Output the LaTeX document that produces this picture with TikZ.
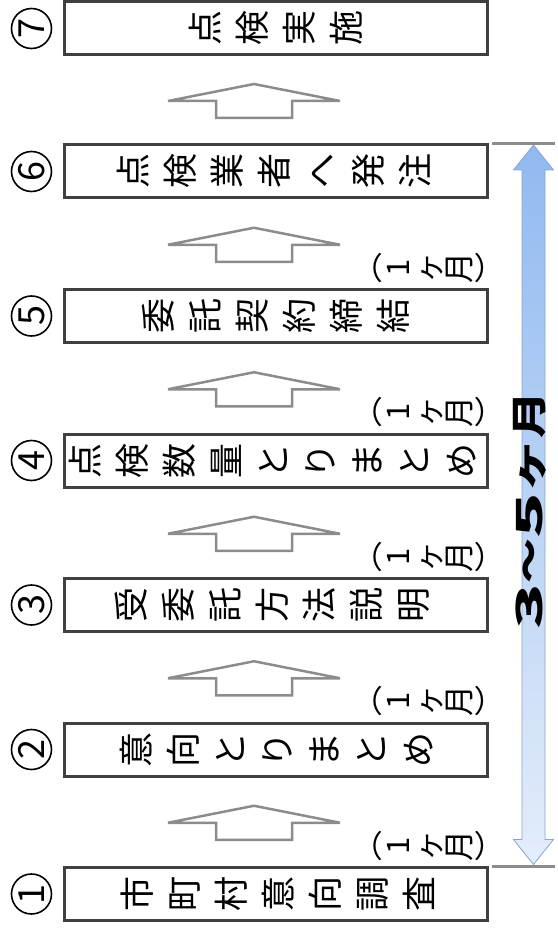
\documentclass[tikz,border=0pt]{standalone}
\usepackage{fontspec}
\usepackage{graphicx}
\newfontfamily\jpfont{Noto Sans CJK JP}
\usetikzlibrary{calc}

\definecolor{boxline}{RGB}{64,64,64}
\definecolor{arrline}{RGB}{140,140,140}
\definecolor{spantop}{RGB}{145,185,240}
\definecolor{spanbot}{RGB}{228,237,250}
\definecolor{spanline}{RGB}{135,165,210}

\tikzset{
  stepbox/.style={draw=boxline, line width=3pt, minimum width=423pt, minimum height=53pt, inner sep=0pt},
  steptext/.style={rotate=90, align=center, inner sep=0pt, font=\jpfont\fontsize{35}{47}\selectfont},
  stepnum/.style={circle, draw, line width=1.6pt, minimum size=40pt, inner sep=0pt, rotate=90, font=\jpfont\fontsize{36}{36}\selectfont},
  blockarr/.style={draw=arrline, line width=2.5pt, fill=white, line join=miter},
  monthlbl/.style={rotate=90, align=center, inner sep=0pt, font=\jpfont\fontsize{31}{30.5}\selectfont},
  spanlbl/.style={rotate=90, inner sep=0pt, font=\jpfont\bfseries\fontsize{36}{36}\selectfont},
  tickline/.style={draw=arrline, line width=3pt},
}

\begin{document}
\begin{tikzpicture}[x=1pt, y=-1pt]
    \useasboundingbox (0,0) rectangle (557,933);
    % steps, bottom to top
    \node[stepbox] (s1) at (275.5,894) {};
    \node[stepbox] (s2) at (275.5,749.5) {};
    \node[stepbox] (s3) at (275.5,605) {};
    \node[stepbox] (s4) at (275.5,460.5) {};
    \node[stepbox] (s5) at (275.5,316) {};
    \node[stepbox] (s6) at (275.5,171.5) {};
    \node[stepbox] (s7) at (275.5,28.5) {};
    \node[steptext] (t1) at ([xshift=2pt]s1) {市\\町\\村\\意\\向\\調\\査};
    \node[steptext] (t2) at ([xshift=1pt]s2) {意\\向\\と\\り\\ま\\と\\め};
    \node[steptext] (t3) at ([xshift=-3pt]s3) {受\\委\\託\\方\\法\\説\\明};
    \node[steptext] (t4) at ([xshift=-3pt]s4) {点\\検\\数\\量\\と\\り\\ま\\と\\め};
    \node[steptext] (t5) at (s5) {委\\託\\契\\約\\締\\結};
    \node[steptext] (t6) at ([xshift=-2pt]s6) {点\\検\\業\\者\\へ\\発\\注};
    \node[steptext] (t7) at (s7) {点\\検\\実\\施};
    \foreach \i in {1,...,7}
        \node[stepnum] (n\i) at ($(s\i.west)+(-31,0)$) {\i};

    % hollow arrows between the steps
    \foreach \a/\b [count=\i] in {s1/s2, s2/s3, s3/s4, s4/s5, s5/s6, s6/s7} {
        \coordinate (g\i) at ($(\a.north)!0.5!(\b.south)$);
        \draw[blockarr] ([shift={(-21.5,-16)}]g\i) -- ++(86,17) -- ++(-48,0) -- ++(0,17)
            -- ++(-76,0) -- ++(0,-17) -- ++(-48,0) -- cycle;
    }
    \foreach \i in {1,...,5}
        \node[monthlbl] (m\i) at ([shift={(162,24)}]g\i) {︵\\1\\ヶ\\月\\︶};

    % overall span
    \path ([xshift=3pt]s6.north east) -- ++(63,0) coordinate (e6);
    \path ([xshift=3pt]s1.north east) -- ++(63,0) coordinate (e1);
    \coordinate (at) at ($(e6)+(-21,1.5)$);
    \coordinate (ab) at ($(e1)+(-21,-1.5)$);
    \shade[top color=spantop, bottom color=spanbot, draw=spanline, line width=0.8pt]
        (at) -- ++(20,25) -- ++(-8.5,0) -- ($(ab)+(11.5,-25)$) -- ++(8.5,0) -- (ab)
        -- ++(-20,-25) -- ++(8.5,0) -- ($(at)+(-11.5,25)$) -- ++(-8.5,0) -- cycle;
    \draw[tickline] ([xshift=3pt]s6.north east) -- (e6);
    \draw[tickline] ([xshift=3pt]s1.north east) -- (e1);
    \node[spanlbl] (span) at (530,511) {\scalebox{2.1}[1]{3}\scalebox{1.25}[1]{〜}\scalebox{2.1}[1]{5}\scalebox{1.5}[1]{ヶ}\scalebox{1.3}[1]{月}};
\end{tikzpicture}
\end{document}
